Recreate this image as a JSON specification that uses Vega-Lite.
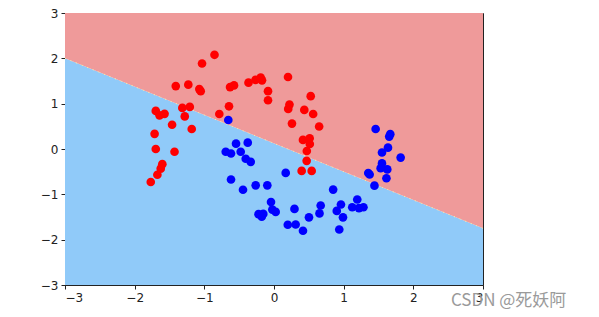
{
  "$schema": "https://vega.github.io/schema/vega-lite/v6.json",
  "autosize": "none",
  "width": 418,
  "height": 272,
  "padding": {"left": 65, "top": 13, "right": 116, "bottom": 32},
  "background": "white",
  "config": {
    "view": {"stroke": "#222", "strokeWidth": 1},
    "axis": {
      "labelFont": "DejaVu Sans",
      "labelFontSize": 12,
      "labelColor": "#222",
      "tickColor": "#222",
      "domainColor": "#222",
      "tickSize": 4,
      "labelPadding": 3,
      "grid": false,
      "title": null
    }
  },
  "datasets": {
    "boundary": [
      {"x": -3, "b": 2.0},
      {"x": 3, "b": -1.75}
    ],
    "points": [
      {"x": -0.854, "y": 2.078, "c": "red"},
      {"x": -1.033, "y": 1.886, "c": "red"},
      {"x": -1.41, "y": 1.388, "c": "red"},
      {"x": -1.23, "y": 1.419, "c": "red"},
      {"x": -1.072, "y": 1.321, "c": "red"},
      {"x": -1.052, "y": 1.276, "c": "red"},
      {"x": -0.631, "y": 1.365, "c": "red"},
      {"x": -0.574, "y": 1.403, "c": "red"},
      {"x": -0.366, "y": 1.463, "c": "red"},
      {"x": -0.265, "y": 1.526, "c": "red"},
      {"x": -0.191, "y": 1.575, "c": "red"},
      {"x": -0.172, "y": 1.514, "c": "red"},
      {"x": -0.086, "y": 1.276, "c": "red"},
      {"x": -0.086, "y": 1.076, "c": "red"},
      {"x": -0.646, "y": 0.942, "c": "red"},
      {"x": -0.785, "y": 0.773, "c": "red"},
      {"x": -1.316, "y": 0.906, "c": "red"},
      {"x": -1.209, "y": 0.929, "c": "red"},
      {"x": -1.281, "y": 0.719, "c": "red"},
      {"x": -1.697, "y": 0.84, "c": "red"},
      {"x": -1.643, "y": 0.742, "c": "red"},
      {"x": -1.571, "y": 0.775, "c": "red"},
      {"x": -1.463, "y": 0.535, "c": "red"},
      {"x": -1.181, "y": 0.441, "c": "red"},
      {"x": -1.714, "y": 0.334, "c": "red"},
      {"x": -1.697, "y": 0.0, "c": "red"},
      {"x": -1.428, "y": -0.06, "c": "red"},
      {"x": -1.603, "y": -0.334, "c": "red"},
      {"x": -1.626, "y": -0.434, "c": "red"},
      {"x": -1.674, "y": -0.568, "c": "red"},
      {"x": -1.769, "y": -0.728, "c": "red"},
      {"x": 0.201, "y": 1.588, "c": "red"},
      {"x": 0.527, "y": 1.165, "c": "red"},
      {"x": 0.222, "y": 0.98, "c": "red"},
      {"x": 0.204, "y": 0.884, "c": "red"},
      {"x": 0.435, "y": 0.862, "c": "red"},
      {"x": 0.562, "y": 0.773, "c": "red"},
      {"x": 0.258, "y": 0.561, "c": "red"},
      {"x": 0.648, "y": 0.497, "c": "red"},
      {"x": 0.416, "y": 0.2, "c": "red"},
      {"x": 0.512, "y": 0.238, "c": "red"},
      {"x": 0.514, "y": 0.111, "c": "red"},
      {"x": 0.471, "y": -0.045, "c": "red"},
      {"x": 0.469, "y": -0.261, "c": "red"},
      {"x": 0.397, "y": -0.483, "c": "red"},
      {"x": 0.541, "y": -0.483, "c": "red"},
      {"x": -0.656, "y": 0.639, "c": "blue"},
      {"x": -0.545, "y": 0.118, "c": "blue"},
      {"x": -0.377, "y": 0.14, "c": "blue"},
      {"x": -0.693, "y": -0.06, "c": "blue"},
      {"x": -0.617, "y": -0.1, "c": "blue"},
      {"x": -0.478, "y": -0.06, "c": "blue"},
      {"x": -0.406, "y": -0.216, "c": "blue"},
      {"x": -0.334, "y": -0.283, "c": "blue"},
      {"x": -0.617, "y": -0.673, "c": "blue"},
      {"x": -0.445, "y": -0.898, "c": "blue"},
      {"x": -0.263, "y": -0.802, "c": "blue"},
      {"x": -0.096, "y": -0.802, "c": "blue"},
      {"x": -0.043, "y": -1.169, "c": "blue"},
      {"x": -0.024, "y": -1.336, "c": "blue"},
      {"x": 0.024, "y": -1.388, "c": "blue"},
      {"x": -0.222, "y": -1.437, "c": "blue"},
      {"x": -0.176, "y": -1.492, "c": "blue"},
      {"x": -0.154, "y": -1.432, "c": "blue"},
      {"x": 0.168, "y": -0.528, "c": "blue"},
      {"x": 0.294, "y": -1.321, "c": "blue"},
      {"x": 0.198, "y": -1.67, "c": "blue"},
      {"x": 0.311, "y": -1.666, "c": "blue"},
      {"x": 0.416, "y": -1.804, "c": "blue"},
      {"x": 0.502, "y": -1.508, "c": "blue"},
      {"x": 0.653, "y": -1.421, "c": "blue"},
      {"x": 0.67, "y": -1.247, "c": "blue"},
      {"x": 0.849, "y": -0.895, "c": "blue"},
      {"x": 0.901, "y": -1.365, "c": "blue"},
      {"x": 0.961, "y": -1.225, "c": "blue"},
      {"x": 0.99, "y": -1.508, "c": "blue"},
      {"x": 0.937, "y": -1.775, "c": "blue"},
      {"x": 1.123, "y": -1.285, "c": "blue"},
      {"x": 1.195, "y": -1.114, "c": "blue"},
      {"x": 1.22, "y": -1.303, "c": "blue"},
      {"x": 1.284, "y": -1.285, "c": "blue"},
      {"x": 1.353, "y": -0.53, "c": "blue"},
      {"x": 1.373, "y": -0.563, "c": "blue"},
      {"x": 1.442, "y": -0.808, "c": "blue"},
      {"x": 1.459, "y": 0.441, "c": "blue"},
      {"x": 1.669, "y": 0.327, "c": "blue"},
      {"x": 1.654, "y": 0.274, "c": "blue"},
      {"x": 1.636, "y": 0.029, "c": "blue"},
      {"x": 1.55, "y": -0.078, "c": "blue"},
      {"x": 1.818, "y": -0.189, "c": "blue"},
      {"x": 1.55, "y": -0.318, "c": "blue"},
      {"x": 1.531, "y": -0.423, "c": "blue"},
      {"x": 1.626, "y": -0.45, "c": "blue"},
      {"x": 1.614, "y": -0.646, "c": "blue"}
    ]
  },
  "layer": [
    {
      "data": {"name": "boundary"},
      "mark": {"type": "area", "color": "#90CAF9", "opacity": 1},
      "encoding": {
        "x": {"field": "x", "type": "quantitative",
              "scale": {"domain": [-3, 3], "nice": false, "zero": false},
              "axis": {"values": [-3, -2, -1, 0, 1, 2, 3], "format": "d", "labelExpr": "replace(datum.label, '-', '\u2212')"}},
        "y": {"field": "b", "type": "quantitative",
              "scale": {"domain": [-3, 3], "nice": false, "zero": false},
              "axis": {"values": [-3, -2, -1, 0, 1, 2, 3], "format": "d", "labelExpr": "replace(datum.label, '-', '\u2212')"}},
        "y2": {"datum": -3}
      }
    },
    {
      "data": {"name": "boundary"},
      "mark": {"type": "area", "color": "#EF9A9A", "opacity": 1},
      "encoding": {
        "x": {"field": "x", "type": "quantitative"},
        "y": {"field": "b", "type": "quantitative"},
        "y2": {"datum": 3}
      }
    },
    {
      "data": {"name": "boundary"},
      "mark": {"type": "line", "color": "#FFF59D", "strokeWidth": 1, "strokeDash": [1, 5]},
      "encoding": {
        "x": {"field": "x", "type": "quantitative"},
        "y": {"field": "b", "type": "quantitative"}
      }
    },
    {
      "data": {"name": "points"},
      "mark": {"type": "point", "shape": "circle", "filled": true, "size": 75, "opacity": 1},
      "encoding": {
        "x": {"field": "x", "type": "quantitative"},
        "y": {"field": "y", "type": "quantitative"},
        "color": {"field": "c", "type": "nominal",
                  "scale": {"domain": ["red", "blue"], "range": ["#ff0000", "#0000ff"]},
                  "legend": null}
      }
    },
    {
      "data": {"values": [{"t": "CSDN @死妖阿"}]},
      "mark": {"type": "text", "align": "left", "baseline": "alphabetic", "font": "Noto Sans CJK SC", "fontSize": 17, "color": "#9a9a9a", "clip": false},
      "encoding": {
        "text": {"field": "t"},
        "x": {"datum": 2.54},
        "y": {"datum": -3.46}
      }
    }
  ]
}
